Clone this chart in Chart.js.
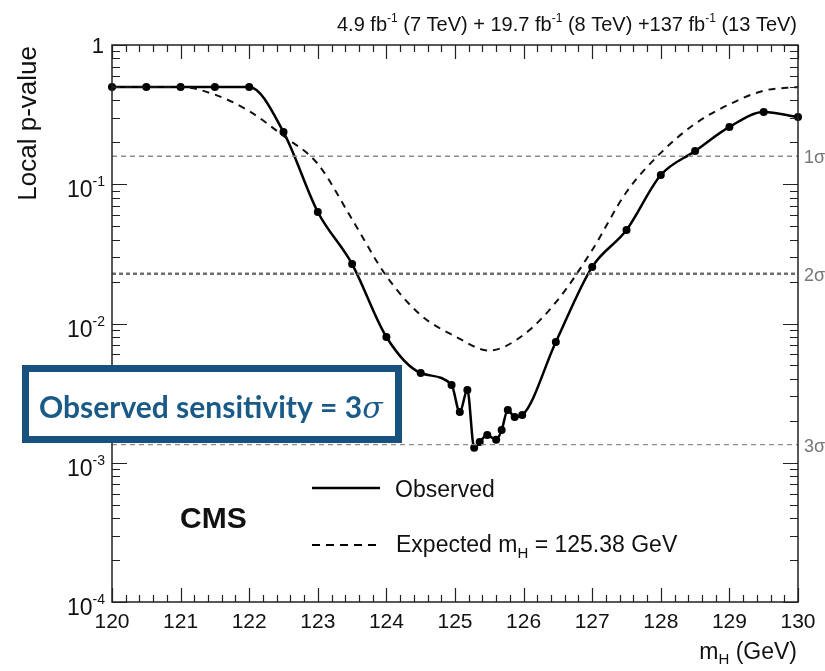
<!DOCTYPE html>
<html>
<head>
<meta charset="utf-8">
<style>
  html, body { margin: 0; background: #fff; }
  canvas { display: block; }
</style>
<script src="https://cdn.jsdelivr.net/npm/chart.js@4"></script>
</head>
<body>
<canvas id="pvalChart" width="825" height="671"></canvas>
<script>
// observed local p-value (points + line)
const massObs = [120, 120.5, 121, 121.5, 122, 122.5, 123, 123.5, 124, 124.5, 124.95, 125.07, 125.18, 125.28, 125.36, 125.47, 125.6, 125.68, 125.77, 125.87, 125.98, 126.47, 127, 127.5, 128, 128.5, 129, 129.5, 130];
const pObs = [0.5, 0.5, 0.5, 0.5, 0.5, 0.237, 0.0632, 0.0267, 0.0080, 0.00441, 0.00362, 0.00231, 0.00333, 0.00128, 0.00141, 0.00158, 0.00146, 0.00172, 0.00239, 0.00213, 0.0022, 0.00736, 0.0255, 0.0469, 0.1165, 0.173, 0.258, 0.330, 0.304];

// expected for mH = 125.38 GeV
const massExp = [120, 120.5, 121, 121.5, 122, 122.5, 123, 123.5, 124, 124.5, 125, 125.5, 126, 126.5, 127, 127.5, 128, 128.5, 129, 129.5, 130];
const pExp = [0.5, 0.5, 0.5, 0.44, 0.335, 0.222, 0.14, 0.056, 0.0219, 0.0115, 0.0081, 0.0064, 0.0083, 0.0148, 0.0337, 0.088, 0.168, 0.272, 0.375, 0.47, 0.5];

const sigmaNames = ['1σ', '2σ', '3σ'];
const sigmaP = [0.1587, 0.02275, 0.00135];

const xTicks = [120, 121, 122, 123, 124, 125, 126, 127, 128, 129, 130];
const yTicks = [1, 0.1, 0.01, 0.001, 0.0001];
const yTickExp = ['', '-1', '-2', '-3', '-4'];

const HELV = '"Liberation Sans", Arial, sans-serif';

function toPoints(xs, ys) {
  return xs.map((x, i) => ({ x: x, y: ys[i] }));
}

const sigmaSets = sigmaP.map((p, i) => ({
  data: [{ x: 120, y: p }, { x: 130, y: p }],
  borderColor: i === 1 ? '#6e6e6e' : '#8c8c8c',
  borderWidth: i === 1 ? 2.4 : 1.4,
  borderDash: i === 1 ? [4, 3] : [5, 4],
  pointRadius: 0
}));

// draws text pieces left to right; each piece: [text, font, dy]
function drawPieces(ctx, pieces, x, y, align) {
  let total = 0;
  pieces.forEach(p => { ctx.font = p[1]; total += ctx.measureText(p[0]).width; });
  let cx = align === 'right' ? x - total : x;
  ctx.textAlign = 'left';
  pieces.forEach(p => {
    ctx.font = p[1];
    ctx.fillText(p[0], cx, y + (p[2] || 0));
    cx += ctx.measureText(p[0]).width;
  });
}

const rootFrame = {
  id: 'rootFrame',
  beforeDraw(chart) {
    const ctx = chart.ctx;
    ctx.save();
    ctx.fillStyle = '#fff';
    ctx.fillRect(0, 0, chart.width, chart.height);
    ctx.restore();
  },
  afterDatasetsDraw(chart) {
    const ctx = chart.ctx;
    const a = chart.chartArea;
    const xs = chart.scales.x, ys = chart.scales.y;
    ctx.save();
    ctx.strokeStyle = '#222';
    ctx.lineWidth = 1.5;
    ctx.strokeRect(a.left, a.top, a.right - a.left, a.bottom - a.top);

    // x ticks, inside, bottom and top
    ctx.lineWidth = 1.2;
    for (let i = 0; i <= 50; i++) {
      const px = Math.round(xs.getPixelForValue(120 + i * 0.2)) + 0.5;
      const len = i % 5 === 0 ? 14 : 7;
      ctx.beginPath();
      ctx.moveTo(px, a.bottom); ctx.lineTo(px, a.bottom - len);
      ctx.moveTo(px, a.top); ctx.lineTo(px, a.top + len);
      ctx.stroke();
    }
    // y ticks, log, left and right
    for (let n = -4; n <= 0; n++) {
      for (let k = 1; k <= 9; k++) {
        const v = k * Math.pow(10, n);
        if (v > 1) break;
        const py = Math.round(ys.getPixelForValue(v)) + 0.5;
        const len = k === 1 ? 15 : 8;
        ctx.beginPath();
        ctx.moveTo(a.left, py); ctx.lineTo(a.left + len, py);
        ctx.moveTo(a.right, py); ctx.lineTo(a.right - len, py);
        ctx.stroke();
      }
    }

    ctx.fillStyle = '#111';
    ctx.textBaseline = 'alphabetic';
    // x tick labels
    ctx.font = '21px ' + HELV;
    ctx.textAlign = 'center';
    xTicks.forEach(v => ctx.fillText(String(v), xs.getPixelForValue(v), 628));

    // y tick labels
    yTicks.forEach((v, i) => {
      const py = ys.getPixelForValue(v);
      if (yTickExp[i] === '') {
        drawPieces(ctx, [['1', '22px ' + HELV]], 104, py + 8, 'right');
      } else {
        drawPieces(ctx, [['10', '23px ' + HELV], [yTickExp[i], '14px ' + HELV, -11]], 105, py + 13, 'right');
      }
    });

    // axis titles
    drawPieces(ctx, [['m', '23px ' + HELV], ['H', '15px ' + HELV, 5], [' (GeV)', '23px ' + HELV]], 797, 659, 'right');
    ctx.save();
    ctx.translate(36, a.top + 1);
    ctx.rotate(-Math.PI / 2);
    ctx.font = '26px ' + HELV;
    ctx.textAlign = 'right';
    ctx.fillText('Local p-value', 0, 0);
    ctx.restore();

    // lumi header
    drawPieces(ctx, [
      ['4.9 fb', '20px ' + HELV], ['-1', '12px ' + HELV, -9],
      [' (7 TeV) + 19.7 fb', '20px ' + HELV], ['-1', '12px ' + HELV, -9],
      [' (8 TeV) +137 fb', '20px ' + HELV], ['-1', '12px ' + HELV, -9],
      [' (13 TeV)', '20px ' + HELV]
    ], 797, 31, 'right');

    // sigma labels on the right
    ctx.fillStyle = '#777';
    sigmaNames.forEach((s, i) => {
      drawPieces(ctx, [[s, '18px ' + HELV]], a.right + 6, ys.getPixelForValue(sigmaP[i]) + 7, 'left');
    });

    // CMS label and legend
    ctx.fillStyle = '#111';
    drawPieces(ctx, [['CMS', 'bold 30px ' + HELV]], 180, 528, 'left');
    ctx.strokeStyle = '#000';
    ctx.lineWidth = 2.5;
    ctx.beginPath(); ctx.moveTo(312, 488); ctx.lineTo(380, 488); ctx.stroke();
    ctx.lineWidth = 2;
    ctx.setLineDash([8, 6]);
    ctx.beginPath(); ctx.moveTo(312, 545); ctx.lineTo(382, 545); ctx.stroke();
    ctx.setLineDash([]);
    drawPieces(ctx, [['Observed', '23px ' + HELV]], 395, 497, 'left');
    drawPieces(ctx, [['Expected m', '23px ' + HELV], ['H', '15px ' + HELV, 6], [' = 125.38 GeV', '23px ' + HELV]], 396, 552, 'left');
    ctx.restore();
  },
  afterDraw(chart) {
    const ctx = chart.ctx;
    ctx.save();
    ctx.fillStyle = '#fff';
    ctx.fillRect(25, 368, 374, 72);
    ctx.strokeStyle = '#17527f';
    ctx.lineWidth = 7;
    ctx.strokeRect(25.5, 368.5, 373, 71);

    // fit the note inside the box
    const main = 'Observed sensitivity = 3';
    let size = 34;
    const fontFor = s => ['bold ' + s + 'px Lato, "Open Sans", sans-serif', 'italic ' + s + 'px "DejaVu Serif", serif'];
    for (; size > 12; size--) {
      const f = fontFor(size);
      ctx.font = f[0];
      let w = ctx.measureText(main).width;
      ctx.font = f[1];
      w += ctx.measureText('σ').width;
      if (w <= 352) break;
    }
    const f = fontFor(size);
    ctx.fillStyle = '#1a5a86';
    ctx.textBaseline = 'alphabetic';
    drawPieces(ctx, [[main, f[0]], ['σ', f[1]]], 39, 418, 'left');
    ctx.restore();
  }
};

new Chart(document.getElementById('pvalChart').getContext('2d'), {
  type: 'line',
  data: {
    datasets: sigmaSets.concat([
      {
        label: 'Expected',
        data: toPoints(massExp, pExp),
        borderColor: '#111',
        borderWidth: 2,
        borderDash: [7, 6],
        pointRadius: 0,
        cubicInterpolationMode: 'monotone'
      },
      {
        label: 'Observed',
        data: toPoints(massObs, pObs),
        borderColor: '#000',
        borderWidth: 2.5,
        pointRadius: 4,
        pointBackgroundColor: '#000',
        pointBorderWidth: 0,
        cubicInterpolationMode: 'monotone',
        clip: 6
      }
    ])
  },
  options: {
    responsive: false,
    animation: false,
    layout: { padding: { left: 112, right: 27, top: 45, bottom: 69 } },
    plugins: { legend: { display: false }, tooltip: { enabled: false } },
    scales: {
      x: { type: 'linear', min: 120, max: 130, display: false },
      y: { type: 'logarithmic', min: 0.0001, max: 1, display: false }
    }
  },
  plugins: [rootFrame]
});
</script>
</body>
</html>
